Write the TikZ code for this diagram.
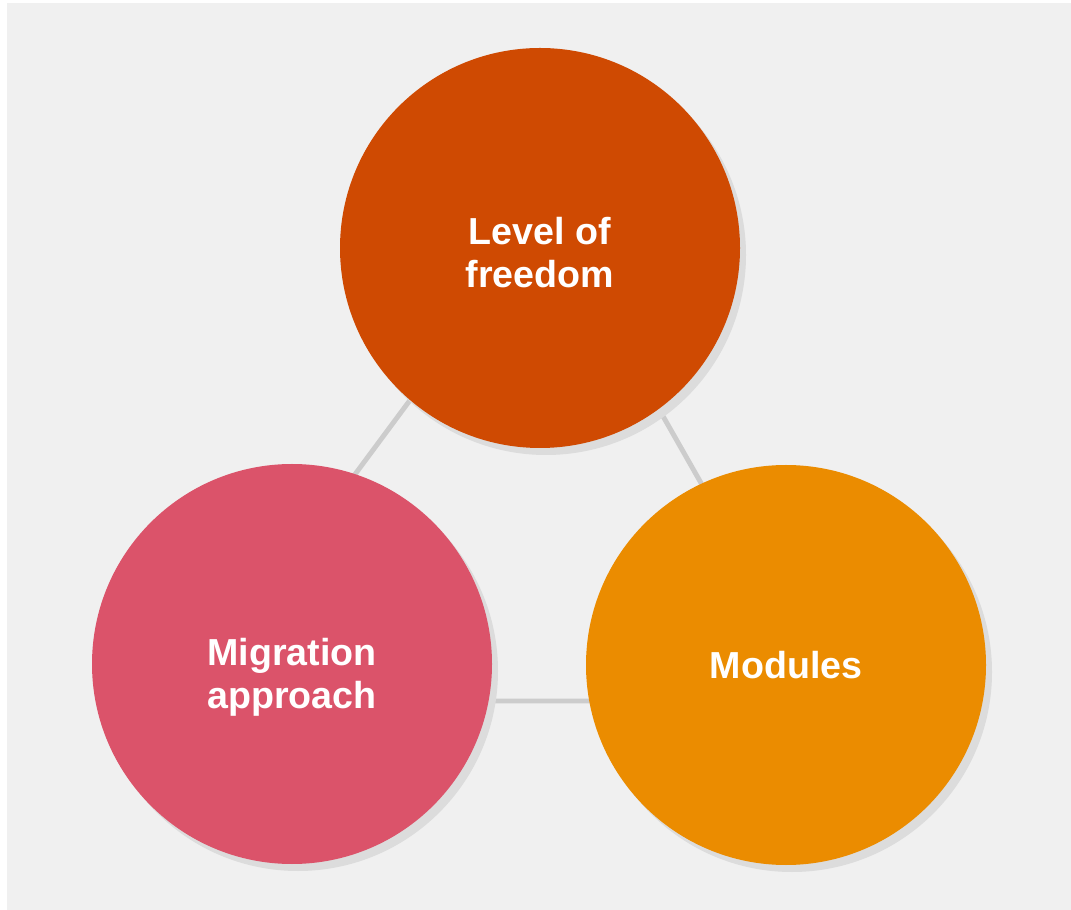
\documentclass[tikz,border=0pt]{standalone}
\usepackage{fontspec}
\setmainfont{Liberation Sans}
\usetikzlibrary{shadows}

\definecolor{bggray}{HTML}{F0F0F0}
\definecolor{linkgray}{HTML}{CCCCCC}
\definecolor{shadowgray}{HTML}{DCDCDC}
\definecolor{rust}{HTML}{CF4A02}
\definecolor{rose}{HTML}{DB536A}
\definecolor{amber}{HTML}{EB8C00}

\begin{document}
\begin{tikzpicture}[x=1cm, y=1cm,
    topic/.style={circle, minimum size=4cm, inner sep=0pt, text=white, align=center,
        font=\fontsize{10.7}{12.2}\selectfont\bfseries,
        drop shadow={shadow xshift=0.06cm, shadow yshift=-0.07cm, fill=shadowgray, opacity=1}},
    link/.style={draw=linkgray, line width=1.4pt}]
            \useasboundingbox (0,0) rectangle (10.71,-9.10);
            \fill[bggray] (0.07,-0.03) rectangle (10.75,-9.15);
            % corners of the triangle behind the circles
            \coordinate (c1) at (5.48,-2.14);
            \coordinate (c2) at (1.87,-7.01);
            \coordinate (c3) at (8.25,-7.01);
            \draw[link] (c1) -- (c2) -- (c3) -- cycle;
            \node[topic, fill=rust, text height=22.2pt, text depth=0pt] (freedom) at (5.40,-2.48) {Level of\\freedom};
            \node[topic, fill=rose, text height=27.4pt, text depth=2.2pt] (migration) at (2.92,-6.64) {Migration\\approach};
            \node[topic, fill=amber] (modules) at (7.86,-6.65) {Modules};
        \end{tikzpicture}
\end{document}
